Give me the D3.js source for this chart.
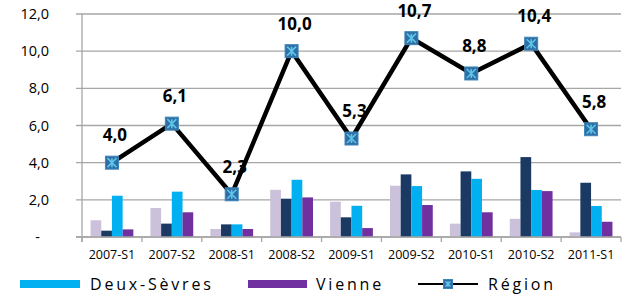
<!DOCTYPE html>
<html>
<head>
<meta charset="utf-8">
<script src="https://cdn.jsdelivr.net/npm/d3@7"></script>
<style>
  body { margin: 0; background: #fff; }
  text { font-family: "Open Sans", "Liberation Sans", sans-serif; }
</style>
</head>
<body>
<div id="chart"></div>
<script>
// data
var periods = ["2007-S1", "2007-S2", "2008-S1", "2008-S2", "2009-S1", "2009-S2", "2010-S1", "2010-S2", "2011-S1"];
var serieA = [0.90, 1.56, 0.43, 2.54, 1.90, 2.76, 0.72, 0.98, 0.25];   // lavender (legend cut off)
var serieB = [0.34, 0.72, 0.68, 2.06, 1.06, 3.37, 3.53, 4.30, 2.92];   // navy (legend cut off)
var deuxSevres = [2.22, 2.44, 0.68, 3.08, 1.68, 2.74, 3.13, 2.53, 1.67];
var vienne = [0.41, 1.33, 0.43, 2.13, 0.48, 1.72, 1.33, 2.47, 0.82];
var region = [4.0, 6.1, 2.3, 10.0, 5.3, 10.7, 8.8, 10.4, 5.8];
var yTicks = [0, 2, 4, 6, 8, 10, 12];

var barSeries = [
  {name: "A", values: serieA, color: "#ccc1da"},
  {name: "B", values: serieB, color: "#1b3a63"},
  {name: "Deux-Sèvres", values: deuxSevres, color: "#00b0f0"},
  {name: "Vienne", values: vienne, color: "#7030a0"}
];

var W = 630, H = 298;
var margin = {top: 14, right: 9, bottom: 61, left: 82};
var width = W - margin.left - margin.right,
    height = H - margin.top - margin.bottom;

var svg = d3.select("#chart").append("svg")
    .attr("width", W)
    .attr("height", H);
var g = svg.append("g")
    .attr("transform", "translate(" + margin.left + "," + margin.top + ")");

var x = d3.scaleBand().domain(periods).range([0, width]);
var xs = d3.scaleBand().domain(barSeries.map(function(s) { return s.name; }))
    .range([0, x.bandwidth()]).paddingInner(0).paddingOuter(0.8);
var y = d3.scaleLinear().domain([0, 12]).range([height, 0]);

// gridlines + left ticks
g.selectAll(".grid")
  .data(yTicks)
  .enter().append("line")
    .attr("x1", -6).attr("x2", width)
    .attr("y1", function(d) { return y(d); })
    .attr("y2", function(d) { return y(d); })
    .style("stroke", "#a6a6a6")
    .style("stroke-width", 1.3);

// y axis line
g.append("line")
  .attr("x1", 0).attr("x2", 0).attr("y1", 0).attr("y2", height + 5)
  .style("stroke", "#a6a6a6").style("stroke-width", 1.3);

// y labels
g.selectAll(".ylab")
  .data(yTicks)
  .enter().append("text")
    .attr("x", function(d) { return d === 0 ? -42 : -33; })
    .attr("y", function(d) { return y(d); })
    .attr("dy", "0.35em")
    .attr("text-anchor", "end")
    .style("font-size", "14.5px")
    .style("fill", "#000")
    .text(function(d) { return d === 0 ? "-" : d3.format(".1f")(d).replace(".", ","); });

// x tick marks at band boundaries
var bounds = periods.map(function(p) { return x(p); }).concat([width]);
g.selectAll(".xtick")
  .data(bounds)
  .enter().append("line")
    .attr("x1", function(d) { return d; }).attr("x2", function(d) { return d; })
    .attr("y1", height).attr("y2", height + 5)
    .style("stroke", "#a6a6a6").style("stroke-width", 1.3);

// bars
barSeries.forEach(function(s) {
  g.selectAll(".bar-" + s.name)
    .data(s.values)
    .enter().append("rect")
      .attr("x", function(d, i) { return x(periods[i]) + xs(s.name); })
      .attr("y", function(d) { return y(d); })
      .attr("width", xs.bandwidth())
      .attr("height", function(d) { return height - y(d); })
      .style("fill", s.color);
});

// bottom axis line (on top of bars)
g.append("line")
  .attr("x1", -6).attr("x2", width).attr("y1", height).attr("y2", height)
  .style("stroke", "#a6a6a6").style("stroke-width", 1.3);

// x labels
g.selectAll(".xlab")
  .data(periods)
  .enter().append("text")
    .attr("x", function(d) { return x(d) + x.bandwidth() / 2; })
    .attr("y", height + 22)
    .attr("text-anchor", "middle")
    .style("font-size", "12.5px")
    .style("fill", "#000")
    .text(function(d) { return d; });

// region line
var line = d3.line()
  .x(function(d, i) { return x(periods[i]) + x.bandwidth() / 2; })
  .y(function(d) { return y(d); });

g.append("path")
  .datum(region)
  .attr("d", line)
  .style("fill", "none")
  .style("stroke", "#000")
  .style("stroke-width", 4.5)
  .style("stroke-linejoin", "miter");

function marker(sel, size) {
  var h = size / 2, k = h - 2;
  sel.append("rect")
    .attr("x", -h).attr("y", -h).attr("width", size).attr("height", size)
    .style("fill", "#2f6ea5").style("stroke", "#3f86b8").style("stroke-width", 1);
  sel.append("path")
    .attr("d", "M" + (-k) + "," + (-k) + "L" + k + "," + k +
               "M" + (-k) + "," + k + "L" + k + "," + (-k) +
               "M0," + (-k) + "L0," + k)
    .style("stroke", "#5cc6e8").style("stroke-width", 1.6);
}

g.selectAll(".pt")
  .data(region)
  .enter().append("g")
    .attr("transform", function(d, i) {
      return "translate(" + (x(periods[i]) + x.bandwidth() / 2) + "," + y(d) + ")";
    })
    .each(function() { marker(d3.select(this), 13); });

// value labels
g.selectAll(".vlab")
  .data(region)
  .enter().append("text")
    .attr("x", function(d, i) { return x(periods[i]) + x.bandwidth() / 2 + 3; })
    .attr("y", function(d) { return y(d) - 21.5; })
    .attr("text-anchor", "middle")
    .style("font-size", "17px")
    .style("font-weight", "bold")
    .style("fill", "#000")
    .text(function(d) { return d3.format(".1f")(d).replace(".", ","); });

// legend (first two entries are cut off in the original)
var ly = 284;
var legend = svg.append("g");
legend.append("rect").attr("x", 20).attr("y", ly - 4).attr("width", 60).attr("height", 8).style("fill", "#00b0f0");
legend.append("text").attr("x", 90).attr("y", ly).attr("dy", "0.35em")
  .style("font-size", "16px").style("letter-spacing", "2.8px").text("Deux-Sèvres");
legend.append("rect").attr("x", 248).attr("y", ly - 4).attr("width", 59).attr("height", 8).style("fill", "#7030a0");
legend.append("text").attr("x", 316).attr("y", ly).attr("dy", "0.35em")
  .style("font-size", "16px").style("letter-spacing", "2.8px").text("Vienne");
legend.append("line").attr("x1", 418).attr("x2", 478).attr("y1", ly).attr("y2", ly)
  .style("stroke", "#000").style("stroke-width", 2);
legend.append("g").attr("transform", "translate(448," + ly + ")")
  .call(function(sel) { marker(sel, 9); });
legend.append("text").attr("x", 488).attr("y", ly).attr("dy", "0.35em")
  .style("font-size", "16px").style("letter-spacing", "2.8px").text("Région");
</script>
</body>
</html>
